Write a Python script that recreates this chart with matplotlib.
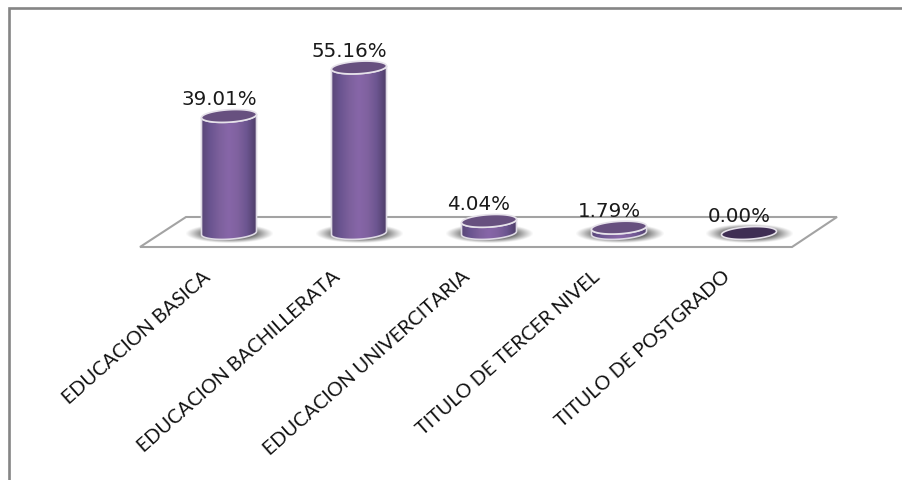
import numpy as np
import matplotlib
matplotlib.use("Agg")
import matplotlib.pyplot as plt
from matplotlib.patches import PathPatch, Polygon
from matplotlib.path import Path
from matplotlib.colors import LinearSegmentedColormap

categories = ["EDUCACION BASICA", "EDUCACION BACHILLERATA", "EDUCACION UNIVERCITARIA",
              "TITULO DE TERCER NIVEL", "TITULO DE POSTGRADO"]
values = [39.01, 55.16, 4.04, 1.79, 0.00]
labels = ["39.01%", "55.16%", "4.04%", "1.79%", "0.00%"]

W, H = 903, 481
PX_X, PX_Y = 130.0, 3.0    # pixels per category / per percent
X0, Y0 = 229, 234          # pixel position of the first category at 0 %

fig = plt.figure(figsize=(W / 100, H / 100), dpi=100, facecolor="white")
ax = fig.add_axes([0, 0, 1, 1])
ax.axis("off")

def dx(px):  return px / PX_X
def dy(px):  return px / PX_Y
def fx(px):  return (px - X0) / PX_X
def fy(py):  return (Y0 - py) / PX_Y

# chart frame: only the top and left edges are visible
ax.plot([fx(903), fx(9), fx(9)], [fy(9), fy(9), fy(481)], color="#858585", lw=1.9,
        solid_joinstyle="miter", zorder=1)

# floor
floor = [(140, 248), (186, 218), (837, 218), (792, 248)]
ax.add_patch(Polygon([(fx(a), fy(b)) for a, b in floor], closed=True, fill=False,
                     ec="#a3a3a3", lw=1.5, zorder=2))

body_cmap = LinearSegmentedColormap.from_list(
    "body", ["#584575", "#6a5490", "#7c609c", "#8766a8", "#80629f", "#6c5590", "#4f3e6a"])
grad = np.linspace(0, 1, 256).reshape(1, -1)

yy, xx = np.mgrid[-1:1:80j, -1:1:160j]
rr = np.sqrt(xx ** 2 + yy ** 2)
shadow = np.zeros((80, 160, 4))
shadow[..., :3] = 0.22
shadow[..., 3] = np.clip((1.02 - rr) / 0.55, 0, 1) ** 1.1 * 0.95

HALF_W, HALF_E, TILT = 27.5, 6.2, 0.06

def rim(i, base, t):
    """Points of the tilted elliptical rim of a cylinder, in data coordinates."""
    c, s = np.cos(t), np.sin(t)
    return i + dx(HALF_W) * c, base + dy(HALF_E * s + TILT * HALF_W * c)

for i, (v, lab) in enumerate(zip(values, labels)):
    ax.imshow(shadow, extent=(i - dx(43), i + dx(44), dy(-9.5), dy(9)),
              aspect="auto", zorder=3, interpolation="bilinear")
    if v > 0:
        bx, by = rim(i, 0, np.linspace(np.pi, 2 * np.pi, 60))
        tx, ty = rim(i, v, np.linspace(2 * np.pi, np.pi, 60))
        verts = np.column_stack([np.r_[bx, tx], np.r_[by, ty]])
        verts = np.vstack([verts, verts[0]])
        clip = PathPatch(Path(verts), fc="none", ec="none", transform=ax.transData)
        ax.add_patch(clip)
        im = ax.imshow(grad, cmap=body_cmap, extent=(i - dx(HALF_W), i + dx(HALF_W), dy(-10), v + dy(10)),
                       aspect="auto", zorder=4)
        im.set_clip_path(clip)
        ax.add_patch(PathPatch(Path(verts), fc="none", ec="#dedae4", lw=1.2, zorder=5))
    ex, ey = rim(i, v, np.linspace(0, 2 * np.pi, 90))
    top = "#67507f" if v > 0 else "#3f2e54"
    ax.fill(ex, ey, fc=top, ec="#e6e2ea", lw=1.2, zorder=6)
    ax.text(i - dx(10), v + dy(17), lab, ha="center", va="center", fontsize=14.3,
            family="DejaVu Sans", color="#1a1a1a", zorder=7)

# category labels, right end anchored just under the floor
for i, c in enumerate(categories):
    ax.annotate(c, (i, 0), xytext=(-27, -34), textcoords="offset pixels",
                rotation=41.5, rotation_mode="anchor", ha="right", va="top",
                fontsize=14.2, family="Lato", color="#111111", zorder=7)

ax.set_xlim(-X0 / PX_X, (W - X0) / PX_X)
ax.set_ylim((Y0 - H) / PX_Y, Y0 / PX_Y)
fig.savefig("out.png", dpi=100)
